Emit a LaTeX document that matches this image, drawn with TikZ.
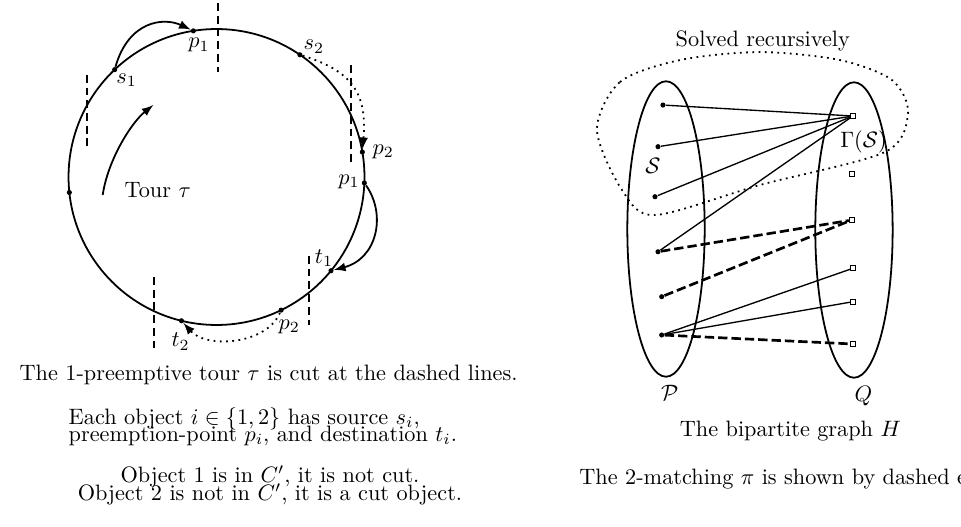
\documentclass[tikz,border=0pt]{standalone}
\usepackage{amsmath}
\usepackage{amssymb}
\usepackage{tikz}
\usetikzlibrary{shapes.geometric}

\tikzset{
  dot/.style={circle, fill, inner sep=0pt, minimum size=2.3pt},
  qbox/.style={rectangle, draw, fill=white, thin, inner sep=0pt, minimum size=2.2pt},
  cutline/.style={thick, dash pattern=on 3.5pt off 2.2pt},
  matched/.style={very thick, dash pattern=on 4.2pt off 1.8pt},
  lbl/.style={inner sep=0pt},
}

\begin{document}
\begin{tikzpicture}[scale=1]
        \useasboundingbox (0,0) rectangle (15.158,8.297);

        % Tour (left)
        \begin{scope}[shift={(3.415,5.505)}]
            \draw[thick] (0,0) circle (2.334);
            \node[dot] (v0) at (186:2.334) {};
            \node[dot] (s1) at (133.5:2.334) {};
            \node[dot] (p1a) at (99:2.334) {};
            \node[dot] (s2) at (55.7:2.334) {};
            \node[dot] (p2a) at (9.7:2.334) {};
            \node[dot] (p1b) at (-2.3:2.334) {};
            \node[dot] (t1) at (-39.3:2.334) {};
            \node[dot] (p2b) at (-64.1:2.334) {};
            \node[dot] (t2) at (-103.7:2.334) {};

            \node[lbl] (ls1) at (132.8:2.085) {$s_1$};
            \node[lbl] (lp1a) at (97.6:2.10) {$p_1$};
            \node[lbl] (ls2) at (53.2:2.566) {$s_2$};
            \node[lbl] (lp2a) at (8.6:2.661) {$p_2$};
            \node[lbl] (lp1b) at (-2.0:2.091) {$p_1$};
            \node[lbl] (lt1) at (-37.1:2.126) {$t_1$};
            \node[lbl] (lp2b) at (-64.1:2.626) {$p_2$};
            \node[lbl] (lt2) at (-102.3:2.658) {$t_2$};
        \end{scope}

        % Object moves
        \draw[thick,-latex] (s1) .. controls +(0.22,0.77) and +(-0.47,0.22) .. (p1a);
        \draw[thick,dotted,-latex] (s2) .. controls +(0.80,-0.25) and +(0.08,0.95) .. (p2a);
        \draw[thick,-latex] (p1b) .. controls +(0.35,-0.50) and +(0.73,0.19) .. (t1);
        \draw[thick,dotted,-latex] (p2b) .. controls +(-0.24,-0.55) and +(0.39,-0.44) .. (t2);

        % Direction of the tour
        \coordinate (tau0) at (1.620,5.221);
        \coordinate (tau1) at (2.418,6.640);
        \draw[thick,-latex] (tau0) .. controls +(0.08,0.55) and +(-0.35,-0.28) .. (tau1);
        \node[anchor=base west] (tour) at (1.841,5.174) {Tour $\tau$};

        % Cut lines
        \draw[cutline] (3.438,8.249) -- (3.438,7.161);
        \draw[cutline] (1.368,7.114) -- (1.368,5.978);
        \draw[cutline] (5.532,7.271) -- (5.532,5.741);
        \draw[cutline] (4.879,4.259) -- (4.879,3.170);
        \draw[cutline] (2.434,3.927) -- (2.434,2.808);

        % Left captions
        \node[anchor=base west] (cap1) at (0.185,2.303) {The 1-preemptive tour $\tau$ is cut at the dashed lines.};
        \node[anchor=north west, align=left, inner sep=0pt] (cap2) at (1.077,1.872)
            {Each object $i \in \{1,2\}$ has source $s_i$,\\[-4.5pt] preemption-point $p_i$, and destination $t_i$.};
        \node[anchor=north, align=center, inner sep=0pt] (cap3) at (4.259,0.962)
            {Object 1 is in $C'$, it is not cut.\\[-3.8pt] Object 2 is not in $C'$, it is a cut object.};

        % Bipartite graph H (right)
        \node[ellipse, draw, thick, inner sep=0pt, minimum width=1.22cm, minimum height=4.66cm] (P) at (10.505,4.685) {};
        \node[ellipse, draw, thick, inner sep=0pt, minimum width=1.22cm, minimum height=4.66cm] (Q) at (13.470,4.669) {};
        \node[below, xshift=0.06cm] (Plbl) at (P.south) {$\mathcal{P}$};
        \node[below, xshift=0.15cm] (Qlbl) at (Q.south) {$Q$};

        % Part solved recursively
        \draw[thick,dotted] plot[smooth cycle] coordinates {(9.416,6.246) (9.779,7.003) (10.726,7.350) (11.987,7.476) (13.249,7.350) (14.069,7.035) (14.322,6.514) (13.959,5.899) (11.987,5.379) (10.331,4.905) (9.811,5.300)};
        \node[anchor=base] (solved) at (12.032,7.560) {Solved recursively};
        \node[lbl] (Slbl) at (10.30,5.678) {$\mathcal{S}$};
        \node[lbl] (GSlbl) at (13.62,6.057) {$\Gamma(\mathcal{S})$};

        % Vertices
        \node[dot] (L1) at (10.457,6.640) {};
        \node[dot] (L2) at (10.379,5.983) {};
        \node[dot] (L3) at (10.331,5.194) {};
        \node[dot] (L4) at (10.379,4.326) {};
        \node[dot] (L5) at (10.437,3.617) {};
        \node[dot] (L6) at (10.437,3.013) {};
        \node[qbox] (R1) at (13.454,6.467) {};
        \node[qbox] (R2) at (13.434,5.547) {};
        \node[qbox] (R3) at (13.434,4.826) {};
        \node[qbox] (R4) at (13.454,4.065) {};
        \node[qbox] (R5) at (13.454,3.538) {};
        \node[qbox] (R6) at (13.454,2.871) {};

        % Edges
        \draw[semithick] (L1) -- (R1);
        \draw[semithick] (L2) -- (R1);
        \draw[semithick] (L3) -- (R1);
        \draw[semithick] (L4) -- (R1);
        \draw[semithick] (L6) -- (R4);
        \draw[semithick] (L6) -- (R5);
        % 2-matching
        \draw[matched] (L4) -- (R3);
        \draw[matched] (L5) -- (R3);
        \draw[matched] (L6) -- (R6);

        \node[anchor=base west] (capH) at (10.599,1.409) {The bipartite graph $H$};
        \node[anchor=base west] (capPi) at (9.014,0.647) {The 2-matching $\pi$ is shown by dashed e};
\end{tikzpicture}
\end{document}
